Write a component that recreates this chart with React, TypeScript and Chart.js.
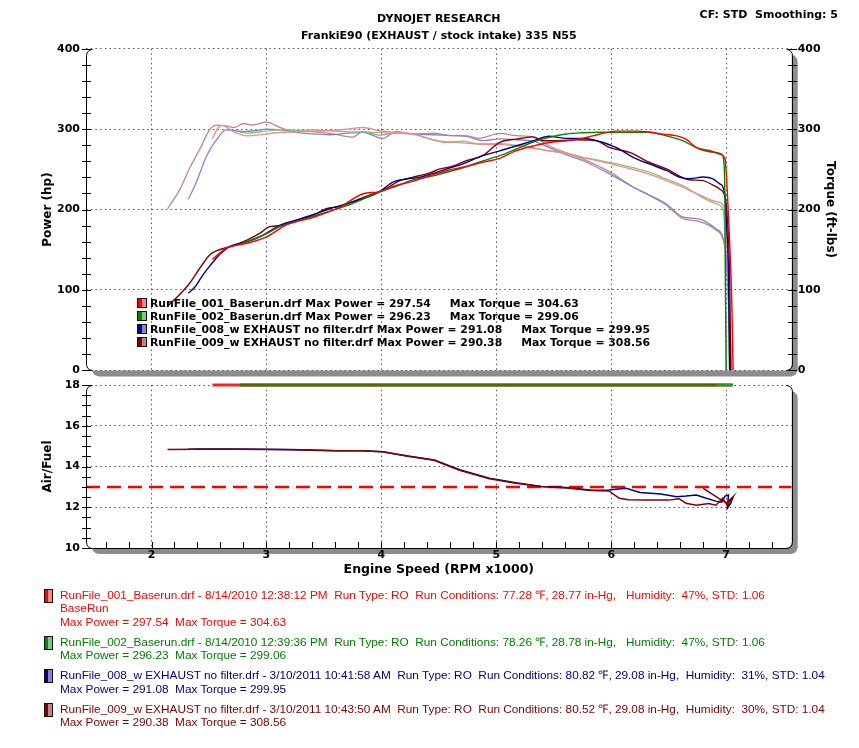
import React, { useEffect, useRef } from "react";
import { Chart, registerables } from "chart.js";

Chart.register(...registerables);

// ---------------- data ----------------
const RPM_MIN = 1.43;
const RPM_MAX = 7.57;
const RPM_TICKS = [2, 3, 4, 5, 6, 7];
const POWER_TICKS = [0, 100, 200, 300, 400];
const AFR_TICKS = [10, 12, 14, 16, 18];
const AFR_TARGET = 13;

const RUN_NAMES = [
  "RunFile_001_Baserun.drf",
  "RunFile_002_Baserun.drf",
  "RunFile_008_w EXHAUST no filter.drf",
  "RunFile_009_w EXHAUST no filter.drf",
];
const RUN_MAX_POWER = [297.54, 296.23, 291.08, 290.38];
const RUN_MAX_TORQUE = [304.63, 299.06, 299.95, 308.56];
const RUN_INFO = [
  "RunFile_001_Baserun.drf - 8/14/2010 12:38:12 PM  Run Type: RO  Run Conditions: 77.28 \u2109, 28.77 in-Hg,   Humidity:  47%, STD: 1.06",
  "RunFile_002_Baserun.drf - 8/14/2010 12:39:36 PM  Run Type: RO  Run Conditions: 78.26 \u2109, 28.78 in-Hg,   Humidity:  47%, STD: 1.06",
  "RunFile_008_w EXHAUST no filter.drf - 3/10/2011 10:41:58 AM  Run Type: RO  Run Conditions: 80.82 \u2109, 29.08 in-Hg,  Humidity:  31%, STD: 1.04",
  "RunFile_009_w EXHAUST no filter.drf - 3/10/2011 10:43:50 AM  Run Type: RO  Run Conditions: 80.52 \u2109, 29.08 in-Hg,  Humidity:  30%, STD: 1.04",
];
const RUN_COMMENTS = ["BaseRun", "", "", ""];

// Run 001
const POWER_001_RPM = [2.53, 2.65, 2.83, 3.0, 3.17, 3.4, 3.64, 3.84, 3.98, 4.13, 4.27, 4.42, 4.57, 4.71, 4.88, 5.03, 5.17, 5.32, 5.46, 5.61, 5.75, 5.84, 5.96, 6.04, 6.22, 6.33, 6.45, 6.57, 6.65, 6.74, 6.86, 6.94, 6.99, 7.01, 7.03, 7.05, 7.06];
const POWER_001_HP = [138, 152, 158, 166, 180.7, 190, 203, 219.7, 222, 230, 235, 242, 248.6, 252.6, 258.8, 263.7, 273, 279, 283.4, 285.4, 288.5, 291.6, 295.7, 297.5, 297.5, 296.5, 293.6, 291.6, 287.5, 277.3, 273.2, 269, 263, 221.8, 160, 78, 0];
const TORQUE_001_RPM = [2.53, 2.58, 2.62, 2.7, 2.83, 3.0, 3.12, 3.3, 3.5, 3.7, 3.84, 3.98, 4.13, 4.27, 4.42, 4.56, 4.7, 4.85, 5.03, 5.17, 5.32, 5.46, 5.61, 5.75, 5.99, 6.19, 6.33, 6.48, 6.62, 6.77, 6.91, 6.97, 7.0, 7.02, 7.05];
const TORQUE_001_FTLB = [288, 302, 304.6, 298, 291.7, 294, 296, 297, 298, 300, 302, 298, 296, 294, 288, 283.6, 285, 281.5, 281, 279, 276, 273, 270, 265, 257, 250, 244, 236, 228, 218, 210, 206, 180, 100, 0];

// Run 002
const POWER_002_RPM = [2.77, 2.83, 3.0, 3.12, 3.26, 3.41, 3.55, 3.7, 3.84, 3.98, 4.13, 4.27, 4.42, 4.57, 4.71, 4.85, 5.03, 5.17, 5.32, 5.46, 5.61, 5.75, 5.9, 6.04, 6.19, 6.33, 6.48, 6.62, 6.77, 6.91, 6.96, 6.98, 6.99, 6.995, 7.0];
const POWER_002_HP = [157, 160, 170, 179, 185, 191.7, 198, 205, 213, 222, 229, 236.5, 241, 246.4, 252, 259, 267, 275, 284, 289.7, 294, 295.5, 296.2, 296.0, 296.0, 296.2, 291.6, 285.6, 275, 271, 269, 259, 201, 78, 0];
const TORQUE_002_RPM = [2.77, 2.83, 3.0, 3.12, 3.3, 3.4, 3.55, 3.7, 3.84, 3.98, 4.13, 4.27, 4.42, 4.57, 4.71, 4.85, 5.03, 5.17, 5.32, 5.46, 5.61, 5.75, 5.9, 6.04, 6.19, 6.33, 6.48, 6.62, 6.77, 6.91, 6.97, 6.99, 7.0];
const TORQUE_002_FTLB = [296, 295, 297.5, 299, 298.5, 299, 298, 297, 296.5, 296, 295, 294, 287.7, 284, 283, 281.5, 282, 280, 277, 273, 269, 265, 261, 257, 252, 246.6, 238, 230, 217, 207.5, 201, 150, 0];

// Run 008
const POWER_008_RPM = [2.32, 2.38, 2.43, 2.48, 2.54, 2.59, 2.68, 2.83, 2.97, 3.12, 3.26, 3.41, 3.55, 3.7, 3.84, 3.98, 4.1, 4.22, 4.33, 4.45, 4.57, 4.71, 4.88, 5.03, 5.17, 5.32, 5.46, 5.61, 5.75, 5.84, 5.93, 6.04, 6.19, 6.33, 6.48, 6.59, 6.68, 6.8, 6.88, 6.94, 6.99, 7.0, 7.02, 7.03];
const POWER_008_HP = [96, 104, 115, 125, 135.5, 143.7, 154, 160, 168, 180.7, 186.8, 193.8, 201, 207.4, 213.6, 221.8, 234, 238, 240, 245, 250.5, 256.7, 267, 273, 279, 285.4, 291.1, 288.5, 288.5, 287, 283.4, 277.3, 265, 256.7, 248.6, 240.4, 238.4, 240.4, 238.4, 232.3, 217.6, 189, 119, 0];
const TORQUE_008_RPM = [2.32, 2.39, 2.48, 2.56, 2.65, 2.8, 2.9, 3.0, 3.12, 3.25, 3.4, 3.55, 3.7, 3.84, 4.01, 4.13, 4.27, 4.45, 4.6, 4.74, 4.88, 5.03, 5.17, 5.32, 5.46, 5.61, 5.75, 5.99, 6.19, 6.33, 6.48, 6.62, 6.77, 6.91, 6.97, 7.0, 7.02, 7.03];
const TORQUE_008_FTLB = [212.8, 234, 267, 285.6, 299, 297, 298, 300, 299, 296, 294, 293, 295, 296, 288.5, 297, 294, 293, 292, 291, 285.6, 288, 286.8, 285, 277, 268, 261, 244, 228, 218, 207, 191, 188, 176, 166, 140, 80, 0];

// Run 009
const POWER_009_RPM = [2.14, 2.2, 2.27, 2.33, 2.42, 2.51, 2.59, 2.71, 2.83, 2.94, 3.03, 3.12, 3.26, 3.41, 3.52, 3.64, 3.78, 3.93, 4.04, 4.16, 4.27, 4.42, 4.51, 4.62, 4.74, 4.88, 5.03, 5.17, 5.32, 5.41, 5.55, 5.7, 5.87, 5.99, 6.16, 6.33, 6.48, 6.59, 6.68, 6.8, 6.88, 6.94, 6.99, 7.01, 7.03, 7.04];
const POWER_009_HP = [80, 88, 98, 108, 127, 144, 150, 155, 162, 170.4, 178.7, 180, 186.8, 193, 201, 204, 211.5, 219.7, 226, 236, 240, 245.6, 250.5, 253.8, 260.8, 267, 283.6, 287.5, 290.4, 285.6, 285.6, 286.7, 285.4, 277, 271, 258.8, 250.5, 242, 237, 236, 230.8, 225.8, 215.6, 189, 119, 0];
const TORQUE_009_RPM = [2.14, 2.25, 2.33, 2.42, 2.51, 2.57, 2.65, 2.72, 2.8, 2.88, 3.0, 3.12, 3.23, 3.4, 3.58, 3.75, 3.84, 3.98, 4.13, 4.3, 4.45, 4.6, 4.74, 4.85, 5.03, 5.17, 5.32, 5.46, 5.6, 5.75, 5.99, 6.19, 6.33, 6.48, 6.62, 6.77, 6.91, 6.97, 7.0, 7.02, 7.04];
const TORQUE_009_FTLB = [201, 226, 251, 275, 300, 305, 304, 302, 307, 305, 308.6, 302, 298, 297, 294, 290, 297, 292.6, 295, 294, 295, 292, 291.7, 288.5, 294.6, 292, 290, 279, 271, 263, 246.6, 228, 217.8, 205.4, 189, 185, 174.6, 164, 140, 90, 0];

const AFR_001_RPM = [2.53, 7.05];
const AFR_001 = [18, 18];
const AFR_002_RPM = [2.77, 6.92, 7.06];
const AFR_002 = [18, 18, 18];
const AFR_008_RPM = [2.32, 2.41, 2.72, 2.99, 3.2, 3.39, 3.61, 3.83, 4.01, 4.23, 4.46, 4.68, 4.94, 5.17, 5.39, 5.61, 5.83, 5.98, 6.13, 6.25, 6.43, 6.57, 6.65, 6.74, 6.82, 6.91, 6.96, 6.99, 7.02, 7.01, 7.04, 7.06];
const AFR_008 = [14.85, 14.86, 14.86, 14.85, 14.83, 14.81, 14.77, 14.77, 14.72, 14.52, 14.32, 13.84, 13.43, 13.2, 13.02, 12.97, 12.84, 12.85, 12.93, 12.72, 12.65, 12.52, 12.55, 12.6, 12.45, 12.3, 12.25, 12.55, 12.6, 11.95, 12.2, 12.5];
const AFR_009_RPM = [2.14, 2.41, 2.72, 2.99, 3.2, 3.39, 3.61, 3.83, 4.01, 4.23, 4.46, 4.68, 4.94, 5.17, 5.39, 5.61, 5.83, 5.98, 6.07, 6.15, 6.3, 6.5, 6.59, 6.65, 6.74, 6.85, 6.91, 6.97, 7.01, 7.06, 7.0, 6.8];
const AFR_009 = [14.84, 14.85, 14.85, 14.84, 14.82, 14.8, 14.77, 14.77, 14.72, 14.5, 14.31, 13.81, 13.4, 13.18, 13.02, 12.95, 12.82, 12.8, 12.44, 12.37, 12.36, 12.35, 12.42, 12.2, 12.1, 12.18, 12.1, 12.44, 12.08, 12.52, 12.2, 12.93];

// ---------------- styles ----------------
const W = 859;
const PANEL_LEFT = 86;
const PANEL_RIGHT = 791.7;
const TOP_PANEL_TOP = 48.7;
const TOP_PANEL_BOTTOM = 373.3;
const TOP_CANVAS_H = 383;
const LOW_PANEL_TOP = 385;
const LOW_PANEL_BOTTOM = 548;
const LOW_CANVAS_H = 590;

const FONT = "'DejaVu Sans', Verdana, sans-serif";
const TEXT_FONT = "'Liberation Sans', Arial, Helvetica, sans-serif";
const POWER_COLORS = ["#ff0000", "#008800", "#00008b", "#800000"];
const TORQUE_COLORS = ["#ff8585", "#84c484", "#8686cc", "#c48484"];
const TEXT_COLORS = ["#ff0000", "#008000", "#000080", "#800000"];
const GRID_COLOR = "#555555";
const GRID_DASH = [1.5, 3.2];

const pts = (xs: number[], ys: number[]) => xs.map((x, i) => ({ x, y: ys[i] }));

function roundRectPath(ctx: CanvasRenderingContext2D, l: number, t: number, r: number, b: number, rad: number) {
  ctx.beginPath();
  ctx.moveTo(l + rad, t);
  ctx.lineTo(r - rad, t);
  ctx.arcTo(r, t, r, t + rad, rad);
  ctx.lineTo(r, b - rad);
  ctx.arcTo(r, b, r - rad, b, rad);
  ctx.lineTo(l + rad, b);
  ctx.arcTo(l, b, l, b - rad, rad);
  ctx.lineTo(l, t + rad);
  ctx.arcTo(l, t, l + rad, t, rad);
  ctx.closePath();
}

const panelPlugin = {
  id: "panel",
  beforeDraw(chart: any) {
    const { ctx, chartArea } = chart;
    const { left, top, right, bottom } = chartArea;
    ctx.save();
    ctx.fillStyle = "#8c8c8c";
    roundRectPath(ctx, left + 6, top + 6, right + 6, bottom + 6, 7);
    ctx.fill();
    ctx.fillStyle = "#ffffff";
    roundRectPath(ctx, left, top, right, bottom, 6);
    ctx.fill();
    ctx.restore();
  },
  afterDraw(chart: any, _a: any, opts: any) {
    const { ctx, chartArea } = chart;
    const l = Math.round(chartArea.left) + 0.5;
    const r = Math.round(chartArea.right) + 0.5;
    const t = Math.round(chartArea.top) + 0.5;
    const b = Math.round(chartArea.bottom) + 0.5;
    const rad = 6;
    ctx.save();
    ctx.strokeStyle = "#000";
    ctx.lineWidth = 1;
    ctx.beginPath();
    ctx.moveTo(l + rad, t);
    ctx.arcTo(l, t, l, t + rad, rad);
    ctx.lineTo(l, b - rad);
    ctx.arcTo(l, b, l + rad, b, rad);
    if (opts && opts.solidBottom) ctx.lineTo(r - rad, b);
    else ctx.moveTo(r - rad, b);
    ctx.arcTo(r, b, r, b - rad, rad);
    ctx.lineTo(r, t + rad);
    ctx.arcTo(r, t, r - rad, t, rad);
    ctx.stroke();
    ctx.restore();
  },
};

const tickMarksPlugin = {
  id: "tickMarks",
  afterDraw(chart: any, _a: any, opts: any) {
    const { ctx, chartArea } = chart;
    const marks = (opts && opts.marks) || [];
    ctx.save();
    ctx.strokeStyle = "#000";
    ctx.lineWidth = 1;
    ctx.beginPath();
    for (const m of marks) {
      const s = chart.scales[m.axis];
      if (!s) continue;
      const first = Math.ceil(s.min / m.step - 1e-6);
      const last = Math.floor(s.max / m.step + 1e-6);
      for (let k = first; k <= last; k++) {
        const p = Math.round(s.getPixelForValue(k * m.step)) + 0.5;
        if (m.side === "left") {
          const x = Math.round(chartArea.left);
          ctx.moveTo(x - 4, p);
          ctx.lineTo(x + 5, p);
        } else if (m.side === "right") {
          const x = Math.round(chartArea.right);
          ctx.moveTo(x - 4, p);
          ctx.lineTo(x + 5, p);
        } else {
          const y = Math.round(chartArea.bottom);
          ctx.moveTo(p, y);
          ctx.lineTo(p, y - 6);
        }
      }
    }
    ctx.stroke();
    ctx.restore();
  },
};

const tickFont = { family: FONT, size: 11, weight: "bold" as const };
const titleFont = { family: FONT, size: 12, weight: "bold" as const };

function gridOpts() {
  return { color: GRID_COLOR, lineWidth: 1, drawTicks: false };
}

function line(xs: number[], ys: number[], color: string, width: number, yAxisID: string, extra: any = {}) {
  return {
    data: pts(xs, ys),
    borderColor: color,
    backgroundColor: color,
    borderWidth: width,
    pointRadius: 0,
    fill: false,
    yAxisID,
    cubicInterpolationMode: "monotone",
    ...extra,
  };
}

function topConfig(): any {
  return {
    type: "line",
    data: {
      datasets: [
        line(POWER_001_RPM, POWER_001_HP, POWER_COLORS[0], 1.4, "y"),
        line(POWER_002_RPM, POWER_002_HP, POWER_COLORS[1], 1.4, "y"),
        line(POWER_008_RPM, POWER_008_HP, POWER_COLORS[2], 1.4, "y"),
        line(POWER_009_RPM, POWER_009_HP, POWER_COLORS[3], 1.4, "y"),
        line(TORQUE_001_RPM, TORQUE_001_FTLB, TORQUE_COLORS[0], 1.3, "y1"),
        line(TORQUE_002_RPM, TORQUE_002_FTLB, TORQUE_COLORS[1], 1.3, "y1"),
        line(TORQUE_008_RPM, TORQUE_008_FTLB, TORQUE_COLORS[2], 1.3, "y1"),
        line(TORQUE_009_RPM, TORQUE_009_FTLB, TORQUE_COLORS[3], 1.3, "y1"),
      ],
    },
    plugins: [panelPlugin, tickMarksPlugin],
    options: {
      animation: false,
      responsive: false,
      events: [],
      layout: { padding: { top: TOP_PANEL_TOP, left: 0, right: 0, bottom: 0 } },
      plugins: {
        legend: { display: false },
        tooltip: { enabled: false },
        panel: { solidBottom: false },
        tickMarks: {
          marks: [
            { axis: "y", step: 20, side: "left" },
            { axis: "y1", step: 20, side: "right" },
          ],
        },
      },
      scales: {
        x: {
          type: "linear",
          bounds: "data",
          min: RPM_MIN,
          max: RPM_MAX,
          afterBuildTicks: (s: any) => { s.ticks = RPM_TICKS.map((v) => ({ value: v })); },
          afterFit: (s: any) => { s.height = TOP_CANVAS_H - TOP_PANEL_BOTTOM; },
          ticks: { display: false, autoSkip: false },
          grid: gridOpts(),
          border: { display: false, dash: GRID_DASH },
        },
        y: {
          type: "linear",
          position: "left",
          bounds: "data",
          min: 0,
          max: 400,
          afterBuildTicks: (s: any) => { s.ticks = POWER_TICKS.map((v) => ({ value: v })); },
          afterFit: (s: any) => { s.width = PANEL_LEFT; },
          ticks: { font: tickFont, color: "#000", padding: 6, autoSkip: false },
          grid: gridOpts(),
          border: { display: false, dash: GRID_DASH },
          title: { display: true, text: "Power (hp)", font: titleFont, color: "#000", padding: { top: 40.8, bottom: 0 } },
        },
        y1: {
          type: "linear",
          position: "right",
          bounds: "data",
          min: 0,
          max: 400,
          afterBuildTicks: (s: any) => { s.ticks = POWER_TICKS.map((v) => ({ value: v })); },
          afterFit: (s: any) => { s.width = W - PANEL_RIGHT; },
          ticks: { font: tickFont, color: "#000", padding: 6, autoSkip: false },
          grid: { drawOnChartArea: false, drawTicks: false },
          border: { display: false },
          title: { display: true, text: "Torque (ft-lbs)", font: titleFont, color: "#000", padding: { top: 21.8, bottom: 0 } },
        },
      },
    },
  };
}

function lowConfig(): any {
  const greenEnd = AFR_002_RPM.length - 2;
  return {
    type: "line",
    data: {
      datasets: [
        line(AFR_009_RPM, AFR_009, POWER_COLORS[3], 1.5, "y", { cubicInterpolationMode: "default", tension: 0 }),
        line(AFR_008_RPM, AFR_008, POWER_COLORS[2], 1.5, "y", { cubicInterpolationMode: "default", tension: 0 }),
        line(AFR_002_RPM, AFR_002, "#4a6e00", 3, "y", {
          cubicInterpolationMode: "default",
          tension: 0,
          clip: 4,
          segment: { borderColor: (c: any) => (c.p0DataIndex < greenEnd ? "#4a6e00" : "#1ea01e") },
        }),
        line(AFR_001_RPM, AFR_001, "#ff2020", 3, "y", { cubicInterpolationMode: "default", tension: 0, clip: 4 }),
        line([RPM_MIN, RPM_MAX], [AFR_TARGET, AFR_TARGET], "#ff0000", 2.5, "y", {
          cubicInterpolationMode: "default",
          tension: 0,
          borderDash: [14, 7],
        }),
      ],
    },
    plugins: [panelPlugin, tickMarksPlugin],
    options: {
      animation: false,
      responsive: false,
      events: [],
      layout: { padding: { top: LOW_PANEL_TOP, left: 0, right: W - PANEL_RIGHT, bottom: 0 } },
      plugins: {
        legend: { display: false },
        tooltip: { enabled: false },
        panel: { solidBottom: true },
        tickMarks: {
          marks: [
            { axis: "y", step: 0.5, side: "left" },
            { axis: "x", step: 0.2, side: "bottom" },
          ],
        },
      },
      scales: {
        x: {
          type: "linear",
          bounds: "data",
          min: RPM_MIN,
          max: RPM_MAX,
          afterBuildTicks: (s: any) => { s.ticks = RPM_TICKS.map((v) => ({ value: v })); },
          afterFit: (s: any) => { s.height = LOW_CANVAS_H - LOW_PANEL_BOTTOM; },
          ticks: { font: tickFont, color: "#000", padding: 1, autoSkip: false, maxRotation: 0 },
          grid: gridOpts(),
          border: { display: false, dash: GRID_DASH },
          title: {
            display: true,
            text: "Engine Speed (RPM x1000)",
            font: { family: FONT, size: 12.5, weight: "bold" },
            color: "#000",
            padding: { top: 0, bottom: 12.5 },
          },
        },
        y: {
          type: "linear",
          position: "left",
          bounds: "data",
          min: 10,
          max: 18,
          afterBuildTicks: (s: any) => { s.ticks = AFR_TICKS.map((v) => ({ value: v })); },
          afterFit: (s: any) => { s.width = PANEL_LEFT; },
          ticks: { font: tickFont, color: "#000", padding: 6, autoSkip: false },
          grid: gridOpts(),
          border: { display: false, dash: GRID_DASH },
          title: { display: true, text: "Air/Fuel", font: titleFont, color: "#000", padding: { top: 40.8, bottom: 0 } },
        },
      },
    },
  };
}

function LegendSwatch({ i, w, h }: { i: number; w: number; h: number }) {
  return (
    <span
      style={{
        display: "inline-block",
        width: w,
        height: h,
        boxSizing: "border-box",
        border: "1px solid #111",
        background: `linear-gradient(to right, ${POWER_COLORS[i]} 0%, ${POWER_COLORS[i]} 45%, ${TORQUE_COLORS[i]} 45%, ${TORQUE_COLORS[i]} 100%)`,
      }}
    />
  );
}

export default function App() {
  const topRef = useRef<HTMLCanvasElement>(null);
  const lowRef = useRef<HTMLCanvasElement>(null);

  useEffect(() => {
    Chart.defaults.font.family = FONT;
    const top = new Chart(topRef.current as HTMLCanvasElement, topConfig());
    const low = new Chart(lowRef.current as HTMLCanvasElement, lowConfig());
    return () => {
      top.destroy();
      low.destroy();
    };
  }, []);

  const headFont: React.CSSProperties = { fontFamily: FONT, fontWeight: "bold", fontSize: 11, color: "#000", whiteSpace: "pre" };
  const rowTops = [296, 309, 322, 335];

  return (
    <div style={{ position: "fixed", left: 0, top: 0, width: W, height: 748, background: "#fff", overflow: "hidden" }}>
      <canvas ref={topRef} width={W} height={TOP_CANVAS_H} style={{ position: "absolute", left: 0, top: 0 }} />
      <canvas ref={lowRef} width={W} height={LOW_CANVAS_H} style={{ position: "absolute", left: 0, top: 0 }} />

      <div style={{ ...headFont, position: "absolute", left: PANEL_LEFT, width: PANEL_RIGHT - PANEL_LEFT, top: 12, textAlign: "center", lineHeight: "14px" }}>
        DYNOJET RESEARCH
      </div>
      <div style={{ ...headFont, position: "absolute", left: PANEL_LEFT, width: PANEL_RIGHT - PANEL_LEFT, top: 29, textAlign: "center", lineHeight: "14px" }}>
        FrankiE90 (EXHAUST / stock intake) 335 N55
      </div>
      <div style={{ ...headFont, position: "absolute", right: 21, top: 8, lineHeight: "14px" }}>
        {"CF: STD  Smoothing: 5"}
      </div>

      {RUN_NAMES.map((name, i) => (
        <div key={name} style={{ position: "absolute", left: 137, top: rowTops[i], height: 14, display: "flex", alignItems: "center", ...headFont, fontSize: 10.85 }}>
          <LegendSwatch i={i} w={10} h={10} />
          <span style={{ marginLeft: 3 }}>{`${name} Max Power = ${RUN_MAX_POWER[i].toFixed(2)}`}</span>
          <span style={{ marginLeft: 19 }}>{`Max Torque = ${RUN_MAX_TORQUE[i].toFixed(2)}`}</span>
        </div>
      ))}

      <div style={{ position: "absolute", left: 0, top: 588.8, width: W }}>
        {RUN_INFO.map((info, i) => (
          <div key={i} style={{ position: "relative", paddingLeft: 60, marginBottom: 6.67, fontFamily: TEXT_FONT, fontSize: 11.8, lineHeight: "13.4px", color: TEXT_COLORS[i], whiteSpace: "pre" }}>
            <span style={{ position: "absolute", left: 44, top: 0 }}>
              <LegendSwatch i={i} w={9} h={14} />
            </span>
            <div>{info}</div>
            {RUN_COMMENTS[i] ? <div>{RUN_COMMENTS[i]}</div> : null}
            <div>{`Max Power = ${RUN_MAX_POWER[i].toFixed(2)}  Max Torque = ${RUN_MAX_TORQUE[i].toFixed(2)}`}</div>
          </div>
        ))}
      </div>
    </div>
  );
}
